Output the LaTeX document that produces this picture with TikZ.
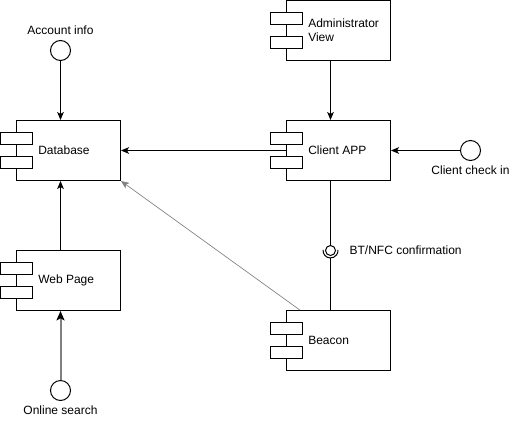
\documentclass[tikz,border=0pt]{standalone}
\usepackage{fontspec}
\setmainfont{Liberation Sans}
\usetikzlibrary{positioning,arrows.meta}
\tikzset{
  comp/.style={draw, line width=0.75pt, minimum width=78pt, minimum height=45pt, inner sep=0pt},
  iface/.style={draw, circle, line width=0.75pt, minimum size=15pt, inner sep=0pt},
  lbl/.style={inner sep=0pt, font=\fontsize{9}{10.5}\selectfont},
  conn/.style={line width=0.75pt, -{Stealth[length=6pt,width=5pt,inset=1.5pt]}}
}
\begin{document}
\begin{tikzpicture}[x=0.75pt,y=-0.75pt]
\useasboundingbox (0,0) rectangle (516,421);
\node[comp] (db) at (68.5,150.5) {};
\node[comp] (web) at (68.5,280.5) {};
\node[comp] (app) at (338.5,150.5) {};
\node[comp] (admin) at (338.5,30.5) {};
\node[comp] (beacon) at (338.5,340.5) {};
\foreach \c in {db,web,app,admin,beacon} {
   \draw[fill=white, line width=0.75pt] ([xshift=-12pt,yshift=4.5pt]\c.west) rectangle ([xshift=12pt,yshift=13.5pt]\c.west);
   \draw[fill=white, line width=0.75pt] ([xshift=-12pt,yshift=-4.5pt]\c.west) rectangle ([xshift=12pt,yshift=-13.5pt]\c.west);
}
\node[lbl, anchor=west] (dbtxt) at ([xshift=16.5pt]db.west) {Database};
\node[lbl, anchor=west] (webtxt) at ([xshift=16.5pt]web.west) {Web Page};
\node[lbl, anchor=west] (apptxt) at ([xshift=16.5pt]app.west) {Client APP};
\node[lbl, anchor=west, align=left] (admintxt) at ([xshift=16.5pt]admin.west) {Administrator\\View};
\node[lbl, anchor=west] (beacontxt) at ([xshift=16.5pt]beacon.west) {Beacon};
\node[iface] (acc) at (60.5,50.5) {};
\node[lbl, above=3.5pt of acc] (acctxt) {Account info};
\node[iface] (chk) at (470.5,150.5) {};
\node[lbl, below=3.5pt of chk] (chktxt) {Client check in};
\node[iface] (srch) at (60.5,390.5) {};
\node[lbl, below=3.5pt of srch] (srchtxt) {Online search};
\node[iface, minimum size=7.5pt] (bt) at (330.5,250.5) {};
\draw[line width=0.75pt] ([shift={(175:5.6pt)}]bt.center) arc[start angle=175, end angle=365, radius=5.6pt];
\coordinate (sock) at ([yshift=-5.6pt]bt.center);
\node[lbl, right=10pt of bt] (bttxt) {BT/NFC confirmation};
\draw[conn] (acc) -- (acc |- db.north);
\draw[conn] (chk) -- (app);
\draw[conn] (app) -- (db);
\draw[conn] ([xshift=-6pt]admin.south) -- ([xshift=-6pt]app.north);
\draw[conn] ([xshift=-6pt]web.north) -- ([xshift=-6pt]db.south);
\draw[gray, line width=1.5pt, -{Stealth[length=7pt,width=6pt,inset=1.5pt,black]}] (srch) -- (srch |- web.south);
\draw[line width=0.75pt] ([xshift=-6pt]app.south) -- (bt);
\draw[line width=0.75pt] (sock) -- ([xshift=-6pt]beacon.north);
\draw[conn, gray, line width=0.5pt] ([xshift=-29pt]beacon.north) -- (db.south east);
\end{tikzpicture}
\end{document}
